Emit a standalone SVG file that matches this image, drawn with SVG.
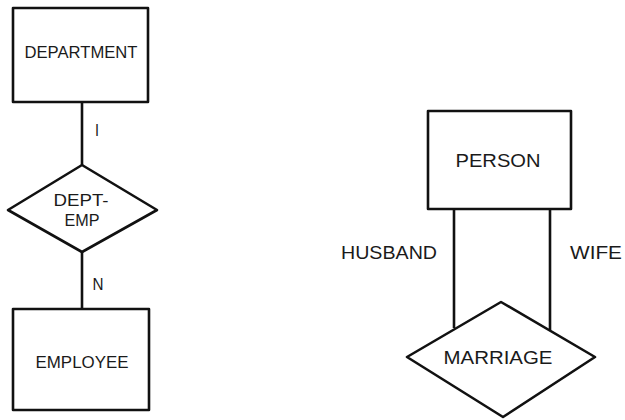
<svg xmlns="http://www.w3.org/2000/svg" width="625" height="420" viewBox="0 0 625 420">
<style>
.s{fill:#fff;stroke:#111;stroke-width:2.6;stroke-linejoin:round}
.c{fill:none;stroke:#111;stroke-width:2.6}
text{font-family:"Liberation Sans",Arial,sans-serif;fill:#1a1a1a;text-anchor:middle}
.sm{font-size:16px}
.lg{font-size:19px}
</style>
<rect width="625" height="420" fill="#fff"/>
<g id="connectors">
<line class="c" x1="82" y1="102" x2="82" y2="165"/>
<line class="c" x1="82" y1="252" x2="82" y2="309"/>
<line class="c" x1="454" y1="209" x2="454" y2="328"/>
<line class="c" x1="550" y1="209" x2="550" y2="330"/>
<text class="sm" x="97" y="136" textLength="4" lengthAdjust="spacingAndGlyphs">I</text>
<text class="sm" x="98" y="290" textLength="11" lengthAdjust="spacingAndGlyphs">N</text>
<text class="lg" x="389" y="259" textLength="96" lengthAdjust="spacingAndGlyphs">HUSBAND</text>
<text class="lg" x="596" y="259" textLength="52" lengthAdjust="spacingAndGlyphs">WIFE</text>
</g>
<g id="department">
<rect class="s" x="13" y="8" width="135" height="94"/>
<text class="sm" x="81" y="58" textLength="113" lengthAdjust="spacingAndGlyphs">DEPARTMENT</text>
</g>
<g id="dept-emp">
<polygon class="s" points="82,165 157,210 82,252 8,210"/>
<text class="sm" x="81" y="206" textLength="55" lengthAdjust="spacingAndGlyphs">DEPT-</text>
<text class="sm" x="82" y="226" textLength="35" lengthAdjust="spacingAndGlyphs">EMP</text>
</g>
<g id="employee">
<rect class="s" x="13" y="309" width="136" height="101"/>
<text class="sm" x="82" y="368" textLength="93" lengthAdjust="spacingAndGlyphs">EMPLOYEE</text>
</g>
<g id="person">
<rect class="s" x="428" y="111" width="143" height="98"/>
<text class="lg" x="498" y="167" textLength="85" lengthAdjust="spacingAndGlyphs">PERSON</text>
</g>
<g id="marriage">
<polygon class="s" points="501,302 595,357 503,417 407,357"/>
<text class="lg" x="498" y="364" textLength="109" lengthAdjust="spacingAndGlyphs">MARRIAGE</text>
</g>
</svg>
